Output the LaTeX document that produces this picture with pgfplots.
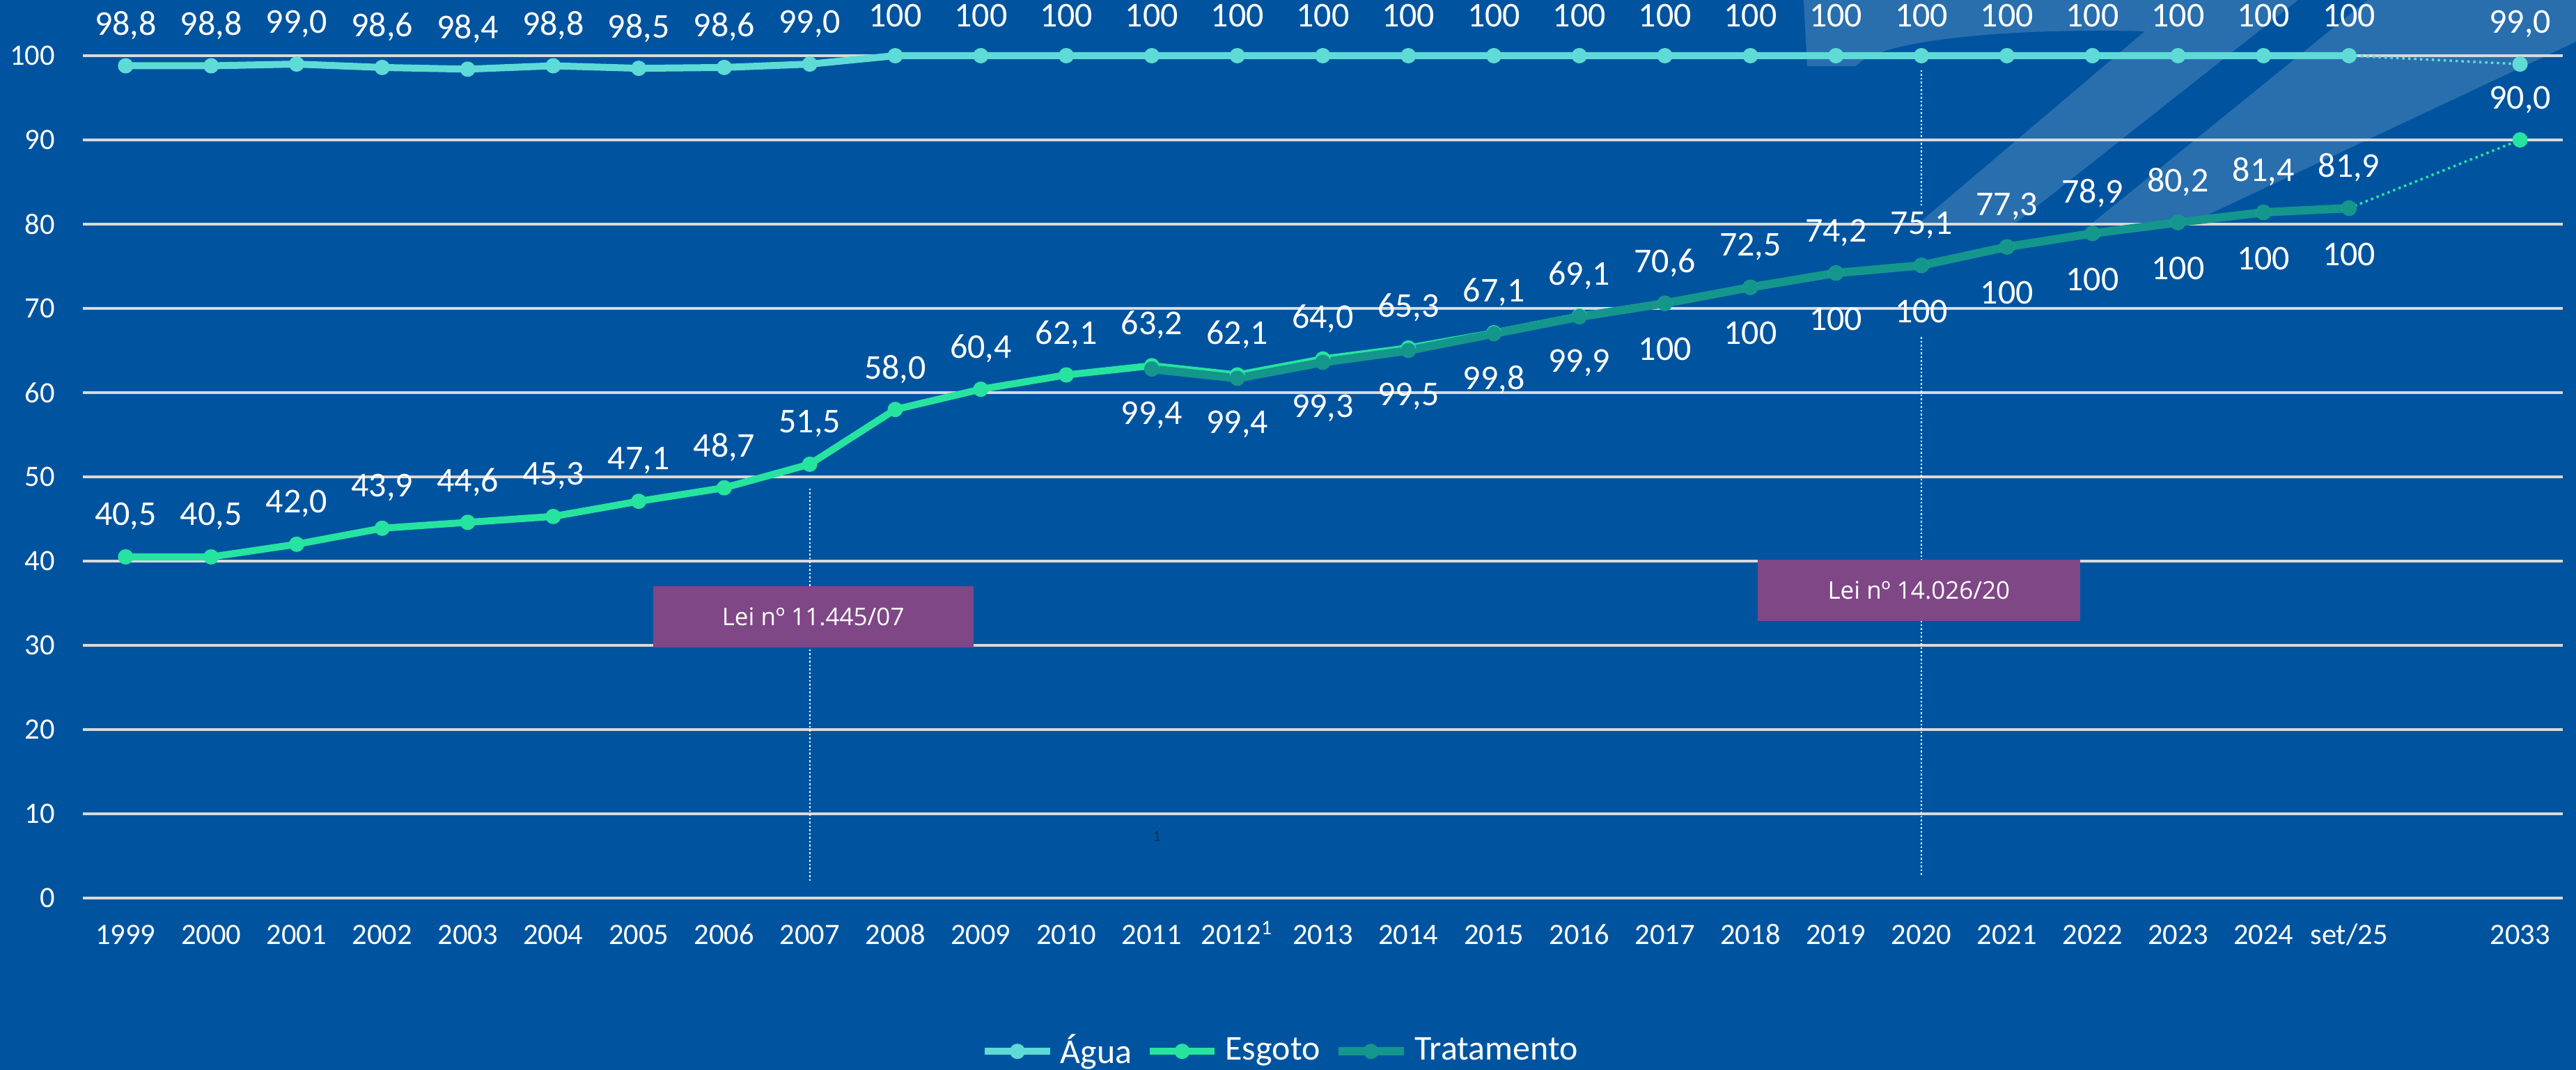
\documentclass[border=0pt]{standalone}
\usepackage{pgfplots}
\pgfplotsset{compat=1.18}
\usepackage{pgfplotstable}
\usepackage{fontspec}
\setmainfont{Carlito}
\newfontfamily\boxfont{Open Sans}
\definecolor{bg}{RGB}{0,84,159}
\definecolor{agua}{RGB}{94,219,214}
\definecolor{esg}{RGB}{38,228,160}
\definecolor{trat}{RGB}{20,150,140}
\definecolor{lei}{RGB}{127,71,134}
\definecolor{gridc}{RGB}{217,217,217}
\definecolor{navy}{RGB}{25,45,80}

\pgfplotstableread{
x y lab
0 98.8 98,8
1 98.8 98,8
2 99.0 99,0
3 98.6 98,6
4 98.4 98,4
5 98.8 98,8
6 98.5 98,5
7 98.6 98,6
8 99.0 99,0
9 100 100
10 100 100
11 100 100
12 100 100
13 100 100
14 100 100
15 100 100
16 100 100
17 100 100
18 100 100
19 100 100
20 100 100
21 100 100
22 100 100
23 100 100
24 100 100
25 100 100
26 100 100
}\agua

\pgfplotstableread{
x y lab
0 40.5 40,5
1 40.5 40,5
2 42.0 42,0
3 43.9 43,9
4 44.6 44,6
5 45.3 45,3
6 47.1 47,1
7 48.7 48,7
8 51.5 51,5
9 58.0 58,0
10 60.4 60,4
11 62.1 62,1
12 63.2 63,2
13 62.1 62,1
14 64.0 64,0
15 65.3 65,3
16 67.1 67,1
17 69.1 69,1
18 70.6 70,6
19 72.5 72,5
20 74.2 74,2
21 75.1 75,1
22 77.3 77,3
23 78.9 78,9
24 80.2 80,2
25 81.4 81,4
26 81.9 81,9
}\esgoto

\pgfplotstableread{
x y lab
12 62.8 99,4
13 61.7 99,4
14 63.6 99,3
15 65.0 99,5
16 67.0 99,8
17 69.0 99,9
18 70.6 100
19 72.5 100
20 74.2 100
21 75.1 100
22 77.3 100
23 78.9 100
24 80.2 100
25 81.4 100
26 81.9 100
}\trat

\begin{document}
\begin{tikzpicture}
\fill[bg] (-23.8pt,-49.4pt) rectangle (716pt,258pt);
% faint logo watermark (decoration)
\begin{scope}[x=0.2pt,y=-0.2pt,shift={(-23.8pt,258pt)}]
\fill[white,fill opacity=0.16] (2590,0) -- (3120,0) -- (3080,45) .. controls (2900,40) and (2700,55) .. (2665,95) -- (2595,95) -- cycle;
\fill[white,fill opacity=0.16] (3120,0) -- (3300,0) -- (2895,320) -- (2756,320) -- (3080,45) -- cycle;
\fill[white,fill opacity=0.16] (3400,0) -- (3699,0) -- (3699,60) -- (3146,320) -- (3005,320) -- cycle;
\end{scope}
\begin{axis}[
  at={(0,0)}, anchor=south west,
  scale only axis, width=712.2pt, height=242pt,
  xmin=-0.5, xmax=28.5, ymin=0, ymax=100,
  clip=false,
  axis line style={draw=none},
  tick style={draw=none},
  ymajorgrids, grid style={gridc, line width=0.8pt},
  ytick={0,10,...,100},
  xtick={0,...,26,28},
  xticklabels={1999,2000,2001,2002,2003,2004,2005,2006,2007,2008,2009,2010,2011,2012\textsuperscript{1},2013,2014,2015,2016,2017,2018,2019,2020,2021,2022,2023,2024,set/25,2033},
  /pgf/number format/assume math mode=true,
  ticklabel style={text=white, font=\fontsize{8.5}{10}\selectfont},
  xticklabel style={inner sep=0pt, anchor=base, yshift=-13.4pt},
  yticklabel style={inner sep=0pt, anchor=east, xshift=-7.8pt},
  legend style={at={(axis description cs:0.484,-0.182)}, anchor=center, draw=none, fill=none,
    text=white, font=\fontsize{10}{12}\selectfont, legend columns=-1,
    /tikz/every even column/.append style={column sep=2pt}},
  legend image code/.code={\draw[mark repeat=2,mark phase=2] plot coordinates {(0cm,0cm) (0.33cm,0cm) (0.66cm,0cm)};},
  nodes near coords align={anchor=center},
]
% vertical markers
\draw[white, line width=0.45pt, dash pattern=on 0.5pt off 0.6pt] (axis cs:8,48.6) -- (axis cs:8,1.8);
\draw[white, line width=0.45pt, dash pattern=on 0.5pt off 0.6pt] (axis cs:21,98.3) -- (axis cs:21,82.2);
\draw[white, line width=0.45pt, dash pattern=on 0.5pt off 0.6pt] (axis cs:21,66.6) -- (axis cs:21,2.7);

% dotted projections
\addplot[forget plot, agua, line width=0.7pt, densely dotted] coordinates {(26,100) (28,99.0)};
\addplot[forget plot, esg, line width=0.7pt, densely dotted] coordinates {(26,81.9) (28,90.0)};

\addplot[agua, line width=2pt, mark=*, mark size=2pt, mark options={solid, line width=0.4pt, fill=agua, draw=agua},
  point meta=explicit symbolic, nodes near coords={\pgfplotspointmeta},
  every node near coord/.append style={text=white, font=\fontsize{10}{12}\selectfont, yshift=11.6pt}]
  table[x=x,y=y,meta=lab] {\agua};
\addlegendentry{Água}

\addplot[esg, line width=2pt, mark=*, mark size=2pt, mark options={solid, line width=0.4pt, fill=esg, draw=esg},
  point meta=explicit symbolic, nodes near coords={\pgfplotspointmeta},
  every node near coord/.append style={text=white, font=\fontsize{10}{12}\selectfont, yshift=11.6pt}]
  table[x=x,y=y,meta=lab] {\esgoto};
\addlegendentry{Esgoto}

\addplot[trat, line width=2.4pt, mark=*, mark size=2pt, mark options={solid, line width=0.4pt, fill=trat, draw=trat},
  point meta=explicit symbolic, nodes near coords={\pgfplotspointmeta},
  every node near coord/.append style={text=white, font=\fontsize{10}{12}\selectfont, yshift=-13.2pt}]
  table[x=x,y=y,meta=lab] {\trat};
\addlegendentry{Tratamento}

% 2033 targets
\addplot[forget plot, only marks, agua, mark=*, mark size=2pt, mark options={line width=0.4pt},
  point meta=explicit symbolic, nodes near coords={\pgfplotspointmeta},
  every node near coord/.append style={text=white, font=\fontsize{10}{12}\selectfont, yshift=11.6pt}]
  table[x=x,y=y,meta=lab] {
x y lab
28 99.0 99,0
};
\addplot[forget plot, only marks, esg, mark=*, mark size=2pt, mark options={line width=0.4pt},
  point meta=explicit symbolic, nodes near coords={\pgfplotspointmeta},
  every node near coord/.append style={text=white, font=\fontsize{10}{12}\selectfont, yshift=11.6pt}]
  table[x=x,y=y,meta=lab] {
x y lab
28 90.0 90,0
};

% law boxes
\node[fill=lei, minimum width=92pt, minimum height=17.6pt, inner sep=0pt, text=white,
  font=\boxfont\fontsize{7}{8}\selectfont] at (axis cs:8.04,33.4) {Lei nº 11.445/07};
\node[fill=lei, minimum width=92.6pt, minimum height=17.6pt, inner sep=0pt, text=white,
  font=\boxfont\fontsize{7}{8}\selectfont] at (axis cs:20.97,36.5) {Lei nº 14.026/20};
\node[text=navy, font=\fontsize{4.5}{5}\selectfont, inner sep=0pt] at (axis cs:12.06,7.3) {1};
\end{axis}
\pgfresetboundingbox
\path[use as bounding box] (-23.8pt,-49.4pt) rectangle (716pt,258pt);
\end{tikzpicture}
\end{document}
